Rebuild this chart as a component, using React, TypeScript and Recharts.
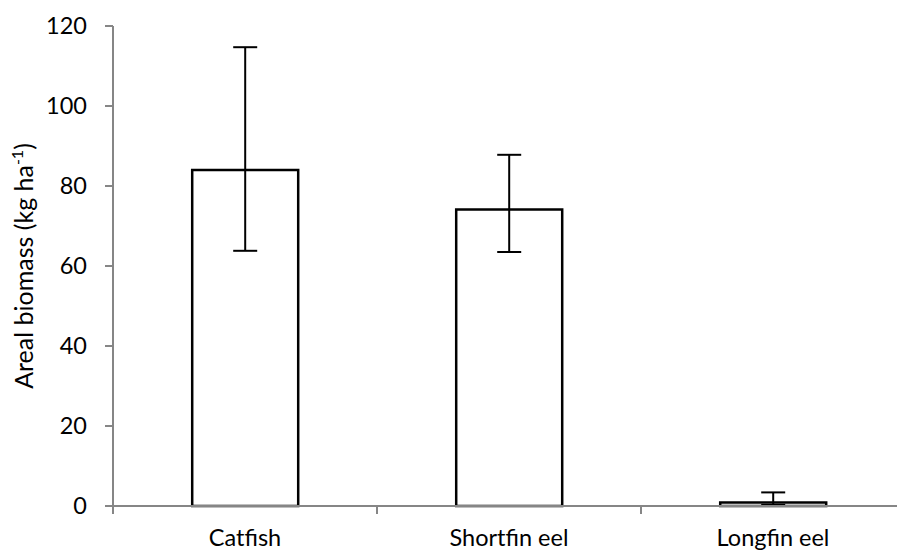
import { BarChart, Bar, XAxis, YAxis, ErrorBar } from 'recharts';

const species = ['Catfish', 'Shortfin eel', 'Longfin eel'];
const biomass = [84, 74.1, 0.9];
const errLow = [20.2, 10.6, 0.6];
const errHigh = [30.7, 13.7, 2.5];
const yTicks = [0, 20, 40, 60, 80, 100, 120];

const data = species.map((name, i) => ({
  name,
  biomass: biomass[i],
  err: [errLow[i], errHigh[i]],
}));

const FONT = 'Lato, "Open Sans", sans-serif';
const AXIS = '#868686';

function CategoryTick(props: any) {
  const { x, y, payload, index } = props;
  const half = payload.offset ?? 0;
  const axisY = y - 10;
  return (
    <g>
      <line x1={x - half} x2={x - half} y1={axisY} y2={axisY + 8} stroke={AXIS} strokeWidth={2} />
      {index === species.length - 1 && (
        <line x1={x + half} x2={x + half} y1={axisY} y2={axisY + 8} stroke={AXIS} strokeWidth={2} />
      )}
      <text x={x} y={axisY + 40} textAnchor="middle" fontFamily={FONT} fontSize={23.5} fill="#000">
        {payload.value}
      </text>
    </g>
  );
}

function YLabel(props: any) {
  const { viewBox } = props;
  const cy = viewBox.y + viewBox.height / 2;
  const cx = 33;
  return (
    <text
      x={cx}
      y={cy}
      transform={`rotate(-90, ${cx}, ${cy})`}
      textAnchor="middle"
      fontFamily={FONT}
      fontSize={25}
      fill="#000"
    >
      Areal biomass (kg ha
      <tspan fontSize={16} dy={-10}>-1</tspan>
      <tspan dy={10}>)</tspan>
    </text>
  );
}

export default function App() {
  return (
    <div style={{ width: 897, height: 553, overflow: 'hidden', position: 'absolute', left: 0, top: 0, background: '#fff' }}>
      <BarChart
        width={910}
        height={553}
        data={data}
        margin={{ top: 26, right: 5, left: 0, bottom: 0 }}
        barCategoryGap="30%"
      >
        <XAxis
          dataKey="name"
          height={47}
          stroke={AXIS}
          strokeWidth={2}
          tickLine={false}
          tickSize={8}
          tickMargin={2}
          tick={<CategoryTick />}
          interval={0}
        />
        <YAxis
          width={113}
          domain={[0, 120]}
          ticks={yTicks}
          interval={0}
          stroke={AXIS}
          strokeWidth={2}
          tickSize={8}
          tickMargin={18}
          tick={{ fill: '#000', fontFamily: FONT, fontSize: 23.5 }}
          label={<YLabel />}
        />
        <Bar dataKey="biomass" fill="#fff" stroke="#000" strokeWidth={2.5} isAnimationActive={false}>
          <ErrorBar dataKey="err" width={12} stroke="#000" strokeWidth={2} direction="y" />
        </Bar>
      </BarChart>
    </div>
  );
}
